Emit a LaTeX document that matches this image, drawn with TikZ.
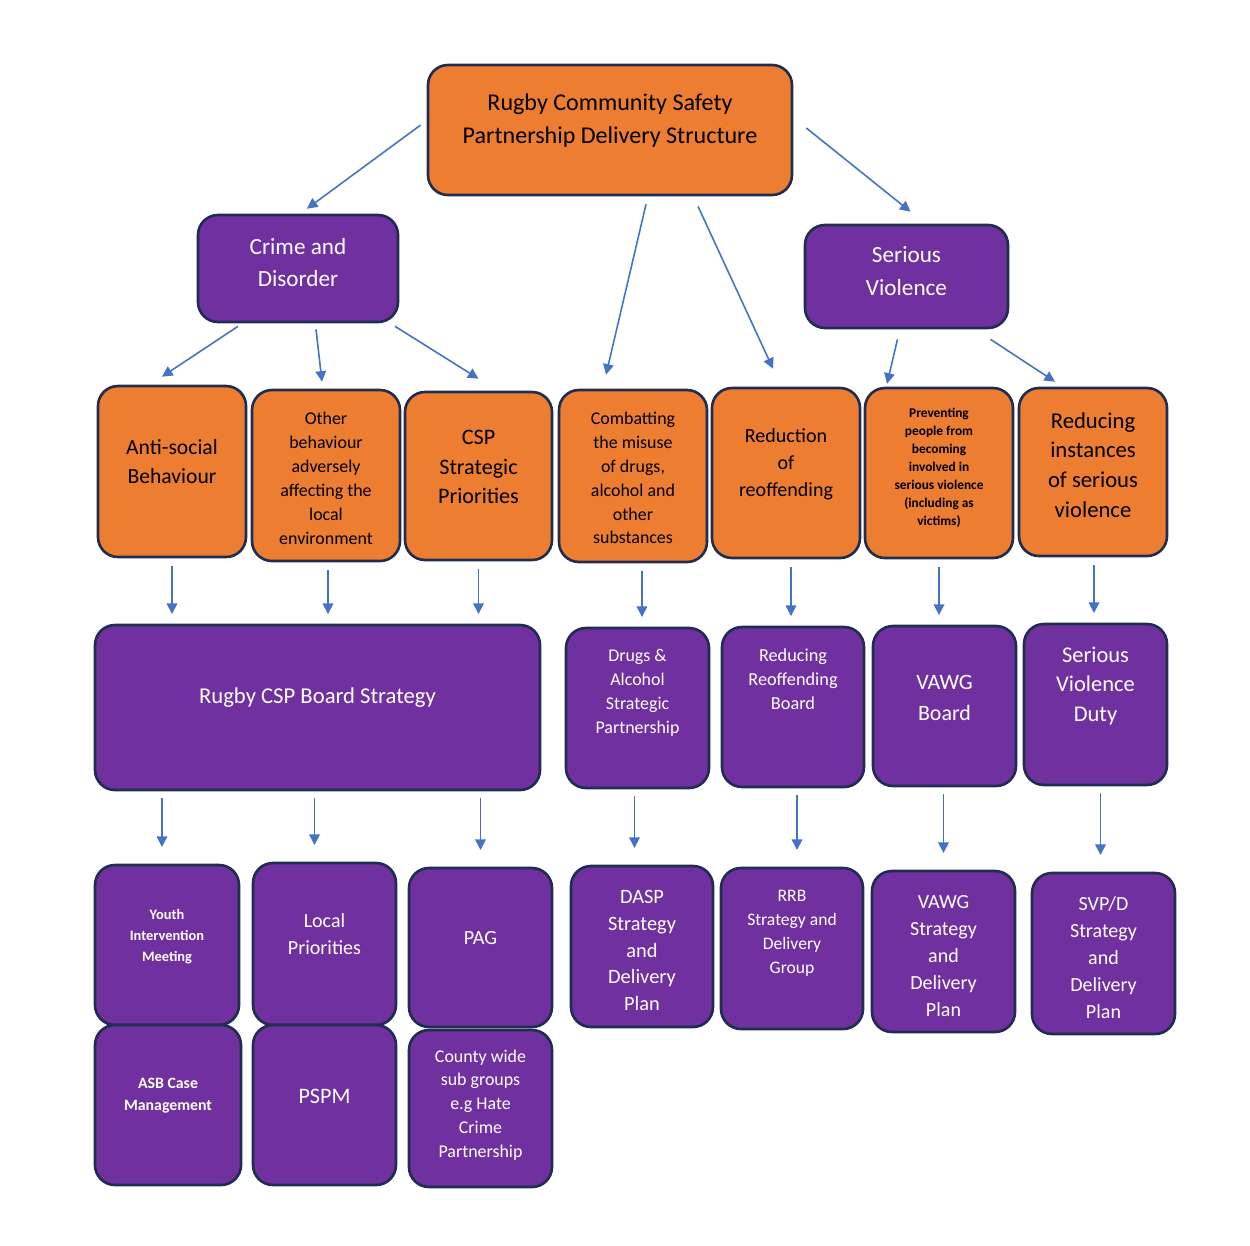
\documentclass[tikz,border=0pt]{standalone}
\usepackage{fontspec}
\setmainfont{Carlito}
\usetikzlibrary{arrows.meta, positioning}
\definecolor{cspOrange}{HTML}{ED7D31}
\definecolor{cspPurple}{HTML}{7030A0}
\definecolor{cspEdge}{HTML}{1F2D50}
\definecolor{cspArrow}{HTML}{4472C4}
\tikzset{
box/.style 2 args={draw=cspEdge, line width=1.5pt, rounded corners=0.4cm,
  minimum width=#1*0.02cm, minimum height=#2*0.02cm, inner sep=0pt},
obox/.style 2 args={box={#1}{#2}, fill=cspOrange},
pbox/.style 2 args={box={#1}{#2}, fill=cspPurple},
otxt/.style 2 args={align=center, text=black, font=\fontsize{#1}{#2}\selectfont},
ptxt/.style 2 args={align=center, text=white, font=\fontsize{#1}{#2}\selectfont},
arr/.style={draw=cspArrow, line width=0.9pt, -{Triangle[length=6pt,width=6pt]}},
down/.style={arr, shorten <=4.5pt, shorten >=5.5pt},
down2/.style={arr, shorten <=4pt, shorten >=9.5pt},
}

\begin{document}
\begin{tikzpicture}[x=0.02cm, y=-0.02cm]
    \useasboundingbox (0,0) rectangle (1250,1245);

    % top
    \node[obox={364}{130}] (top) at (610,130) {};
    \node[otxt={13.7}{18.7}] (top-t) at ([shift={(0,-9)}]top) {Rugby Community Safety\\Partnership Delivery Structure};

    % second level
    \node[pbox={200}{107}] (crime) at (298,268.5) {};
    \node[ptxt={13.2}{18.7}] (crime-t) at ([shift={(0,-6)}]crime) {Crime and\\Disorder};
    \node[pbox={203}{103}] (sv) at (906.5,276.5) {};
    \node[ptxt={13.2}{18.7}] (sv-t) at ([shift={(0,-5)}]sv) {Serious\\Violence};

    % priorities
    \node[obox={148}{171}] (asb) at (172,471.5) {};
    \node[otxt={12.3}{17}] (asb-t) at ([shift={(0,-10)}]asb) {Anti-social\\Behaviour};
    \node[obox={148}{171}] (other) at (326,475.5) {};
    \node[otxt={10.2}{13.6}] (other-t) at ([shift={(0,3)}]other) {Other\\behaviour\\adversely\\affecting the\\local\\environment};
    \node[obox={147}{168}] (csp) at (478.5,476) {};
    \node[otxt={12.6}{17}] (csp-t) at ([shift={(0,-9)}]csp) {CSP\\Strategic\\Priorities};
    \node[obox={148}{172}] (combat) at (633,476) {};
    \node[otxt={10.2}{13.6}] (combat-t) at ([shift={(0,2)}]combat) {Combatting\\the misuse\\of drugs,\\alcohol and\\other\\substances};
    \node[obox={148}{170}] (red) at (786,473) {};
    \node[otxt={11.4}{15.3}] (red-t) at ([shift={(0,-9)}]red) {Reduction\\of\\reoffending};
    \node[obox={148}{170}] (prev) at (939,473) {};
    \node[otxt={7.6}{10.2}, font=\fontsize{7.6}{10.2}\selectfont\bfseries] (prev-t) at ([shift={(0,-5)}]prev) {Preventing\\people from\\becoming\\involved in\\serious violence\\(including as\\victims)};
    \node[obox={148}{168}] (redinst) at (1093,472) {};
    \node[otxt={12.9}{17}] (redinst-t) at ([shift={(0,-7)}]redinst) {Reducing\\instances\\of serious\\violence};

    % boards
    \node[pbox={445}{165}] (board) at (317.5,707.5) {};
    \node[ptxt={12.9}{17}] (board-t) at ([shift={(0,-10)}]board) {Rugby CSP Board Strategy};
    \node[pbox={143}{160}] (drugs) at (637.5,708) {};
    \node[ptxt={10.2}{13.6}] (drugs-t) at ([shift={(0,-15)}]drugs) {Drugs \&\\Alcohol\\Strategic\\Partnership};
    \node[pbox={142}{160}] (reoff) at (793,707) {};
    \node[ptxt={10.4}{13.6}] (reoff-t) at ([shift={(0,-28)}]reoff) {Reducing\\Reoffending\\Board};
    \node[pbox={143}{160}] (vawgb) at (944.5,706) {};
    \node[ptxt={12.5}{17.6}] (vawgb-t) at ([shift={(0,-8.5)}]vawgb) {VAWG\\Board};
    \node[pbox={143}{161}] (svd) at (1095.5,704.5) {};
    \node[ptxt={12.8}{17}] (svd-t) at ([shift={(0,-18.5)}]svd) {Serious\\Violence\\Duty};

    % delivery groups
    \node[pbox={144}{160}] (youth) at (167,945) {};
    \node[ptxt={8.2}{12}, font=\fontsize{8.2}{12}\selectfont\bfseries] (youth-t) at ([shift={(0,-8.5)}]youth) {Youth\\Intervention\\Meeting};
    \node[pbox={146}{160}] (asbcm) at (168,1105) {};
    \node[ptxt={9}{12.5}, font=\fontsize{9}{12.5}\selectfont\bfseries] (asbcm-t) at ([shift={(0,-9)}]asbcm) {ASB Case\\Management};
    \node[pbox={143}{162}] (local) at (324.5,944) {};
    \node[ptxt={11.4}{15.3}] (local-t) at ([shift={(0,-9.5)}]local) {Local\\Priorities};
    \node[pbox={143}{160}] (pspm) at (324.5,1105) {};
    \node[ptxt={12.6}{17}] (pspm-t) at ([shift={(0,-9)}]pspm) {PSPM};
    \node[pbox={143}{159}] (pag) at (480.5,947.5) {};
    \node[ptxt={11.5}{15.3}] (pag-t) at ([shift={(0,-9.5)}]pag) {PAG};
    \node[pbox={143}{157}] (county) at (480.5,1108.5) {};
    \node[ptxt={10.2}{13.6}] (county-t) at ([shift={(0,-3.5)}]county) {County wide\\sub groups\\e.g Hate\\Crime\\Partnership};
    \node[pbox={142}{161}] (dasp) at (642,946.5) {};
    \node[ptxt={11.6}{15.3}] (dasp-t) at ([shift={(0,4)}]dasp) {DASP\\Strategy\\and\\Delivery\\Plan};
    \node[pbox={142}{161}] (rrb) at (792,948.5) {};
    \node[ptxt={10}{13.6}] (rrb-t) at ([shift={(0,-15.5)}]rrb) {RRB\\Strategy and\\Delivery\\Group};
    \node[pbox={143}{161}] (vawgs) at (943.5,951.5) {};
    \node[ptxt={11.4}{15.3}] (vawgs-t) at ([shift={(0,4.5)}]vawgs) {VAWG\\Strategy\\and\\Delivery\\Plan};
    \node[pbox={143}{161}] (svpd) at (1103.5,953.5) {};
    \node[ptxt={11.4}{15.3}] (svpd-t) at ([shift={(0,4)}]svpd) {SVP/D\\Strategy\\and\\Delivery\\Plan};

    % arrows from the top
    \draw[arr] ([shift={(-6,-5)}]top.west) -- ([shift={(9,-5)}]crime.north);
    \draw[arr] ([shift={(13,-2)}]top.east) -- ([shift={(4,-12)}]sv.north);
    \draw[arr] ([shift={(36,8)}]top.south) -- ([shift={(-27,-14)}]combat.north);
    \draw[arr] ([shift={(88,10)}]top.south) -- ([shift={(-13,-18)}]red.north);
    \draw[arr] ([shift={(-60,3)}]crime.south) -- ([shift={(-10,-8)}]asb.north);
    \draw[arr] ([shift={(18,6)}]crime.south) -- ([shift={(-4,-7)}]other.north);
    \draw[arr] ([shift={(97,3)}]crime.south) -- ([shift={(0,-12)}]csp.north);
    \draw[arr] ([shift={(-9,10)}]sv.south) -- ([shift={(-52,-3)}]prev.north);
    \draw[arr] ([shift={(84,10)}]sv.south) -- ([shift={(-38,-5)}]redinst.north);

    % priorities to boards
    \draw[down] (asb.south) -- (asb.south |- board.north);
    \draw[down] ([xshift=2*0.02cm]other.south) -- ([xshift=2*0.02cm]other.south |- board.north);
    \draw[down] (csp.south) -- (csp.south |- board.north);
    \draw[down] ([xshift=9*0.02cm]combat.south) -- ([xshift=9*0.02cm]combat.south |- drugs.north);
    \draw[down] ([xshift=5*0.02cm]red.south) -- ([xshift=5*0.02cm]red.south |- reoff.north);
    \draw[down] (prev.south) -- (prev.south |- vawgb.north);
    \draw[down] ([xshift=1*0.02cm]redinst.south) -- ([xshift=1*0.02cm]redinst.south |- svd.north);

    % boards to delivery groups
    \draw[down2] ([xshift=-5*0.02cm]youth.north |- board.south) -- ([xshift=-5*0.02cm]youth.north);
    \draw[down2] ([xshift=-10*0.02cm]local.north |- board.south) -- ([xshift=-10*0.02cm]local.north);
    \draw[down2] (pag.north |- board.south) -- (pag.north);
    \draw[down2] ([xshift=-3*0.02cm]drugs.south) -- ([xshift=-3*0.02cm]drugs.south |- dasp.north);
    \draw[down2] ([xshift=4*0.02cm]reoff.south) -- ([xshift=4*0.02cm]reoff.south |- rrb.north);
    \draw[down2] (vawgs.north |- vawgb.south) -- (vawgs.north);
    \draw[down2] ([xshift=5*0.02cm]svd.south) -- ([xshift=5*0.02cm]svd.south |- svpd.north);
\end{tikzpicture}
\end{document}
